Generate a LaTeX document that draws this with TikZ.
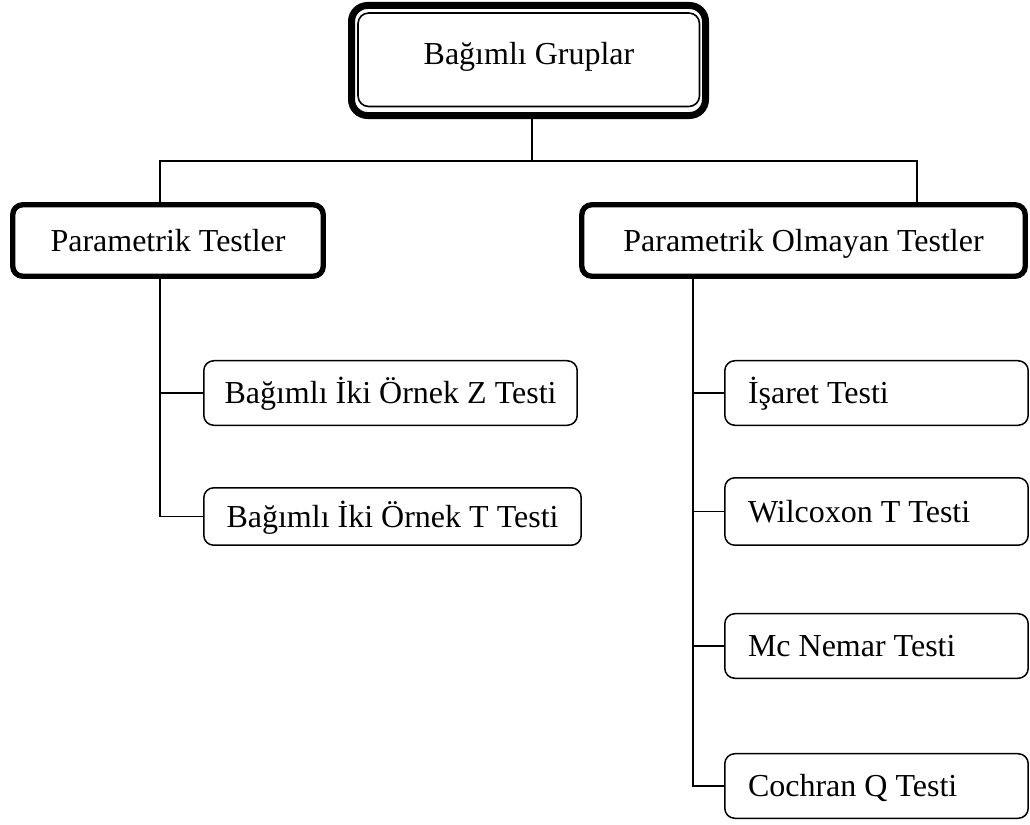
\documentclass[tikz,border=0pt]{standalone}
\usepackage{fontspec}
\setmainfont{Liberation Serif}
\begin{document}
\begin{tikzpicture}[x=0.75pt,y=-0.75pt,
  every node/.style={font=\fontsize{24pt}{28pt}\selectfont, inner sep=0pt, text height=15.8pt, text depth=0pt},
  conn/.style={line width=1.2pt},
  topbox/.style={draw, line width=5.25pt, rounded corners=12pt, minimum width=265.5pt, minimum height=82.5pt},
  parbox/.style={draw, line width=4pt, rounded corners=7.5pt, minimum height=53.6pt},
  leafbox/.style={draw, line width=1.125pt, rounded corners=7.5pt},
  rleaf/.style={leafbox, text width=192.75pt, align=flush left, inner xsep=17.4pt, inner ysep=0pt}
]
\useasboundingbox (0,0) rectangle (1030,824);
\fill[white] (0,0) rectangle (1030,824);

% top box
\node[topbox] (top) at (528.5,60.5) {};
\coordinate (tin1) at (358,13);
\coordinate (tin2) at (699.5,106.5);
\draw[line width=1.2pt, rounded corners=8pt] (tin1) rectangle (tin2);
\node (toplbl) at (529,54) {Bağımlı Gruplar};

% second level
\node[parbox, minimum width=232.9pt] (p1) at (168,240.5) {Parametrik Testler};
\node[parbox, minimum width=332.6pt] (p2) at (803.5,240.5) {Parametrik Olmayan Testler};

% left leaves
\node[leafbox, minimum width=280.1pt, minimum height=48.4pt] (z) at (390.5,393) {Bağımlı İki Örnek Z Testi};
\node[leafbox, minimum width=283.1pt, minimum height=43.1pt] (t) at (392.5,516.5) {Bağımlı İki Örnek T Testi};

% right leaves
\node[rleaf, minimum height=48.4pt] (i) at (876.5,393) {İşaret Testi};
\node[rleaf, minimum height=50.6pt] (w) at (876.5,511.5) {Wilcoxon T Testi};
\node[rleaf, minimum height=48.4pt] (m) at (876.5,646) {Mc Nemar Testi};
\node[rleaf, minimum height=48.4pt] (c) at (876.5,786) {Cochran Q Testi};

% connectors
\coordinate (j) at (532,161);
\coordinate (hl) at (160,161);
\coordinate (hr) at (917,161);
\coordinate (lv) at (160,300);
\coordinate (rv) at (693,300);
\draw[conn] (top.south -| j) -- (j);
\draw[conn] (p1.north -| hl) -- (hl) -- (hr) -- (p2.north -| hr);
\draw[conn] (p1.south -| lv) |- (t.west);
\draw[conn] (z.west -| lv) -- (z.west);
\draw[conn] (p2.south -| rv) |- (c.west);
\draw[conn] (i.west -| rv) -- (i.west);
\draw[conn] (w.west -| rv) -- (w.west);
\draw[conn] (m.west -| rv) -- (m.west);
\end{tikzpicture}
\end{document}
